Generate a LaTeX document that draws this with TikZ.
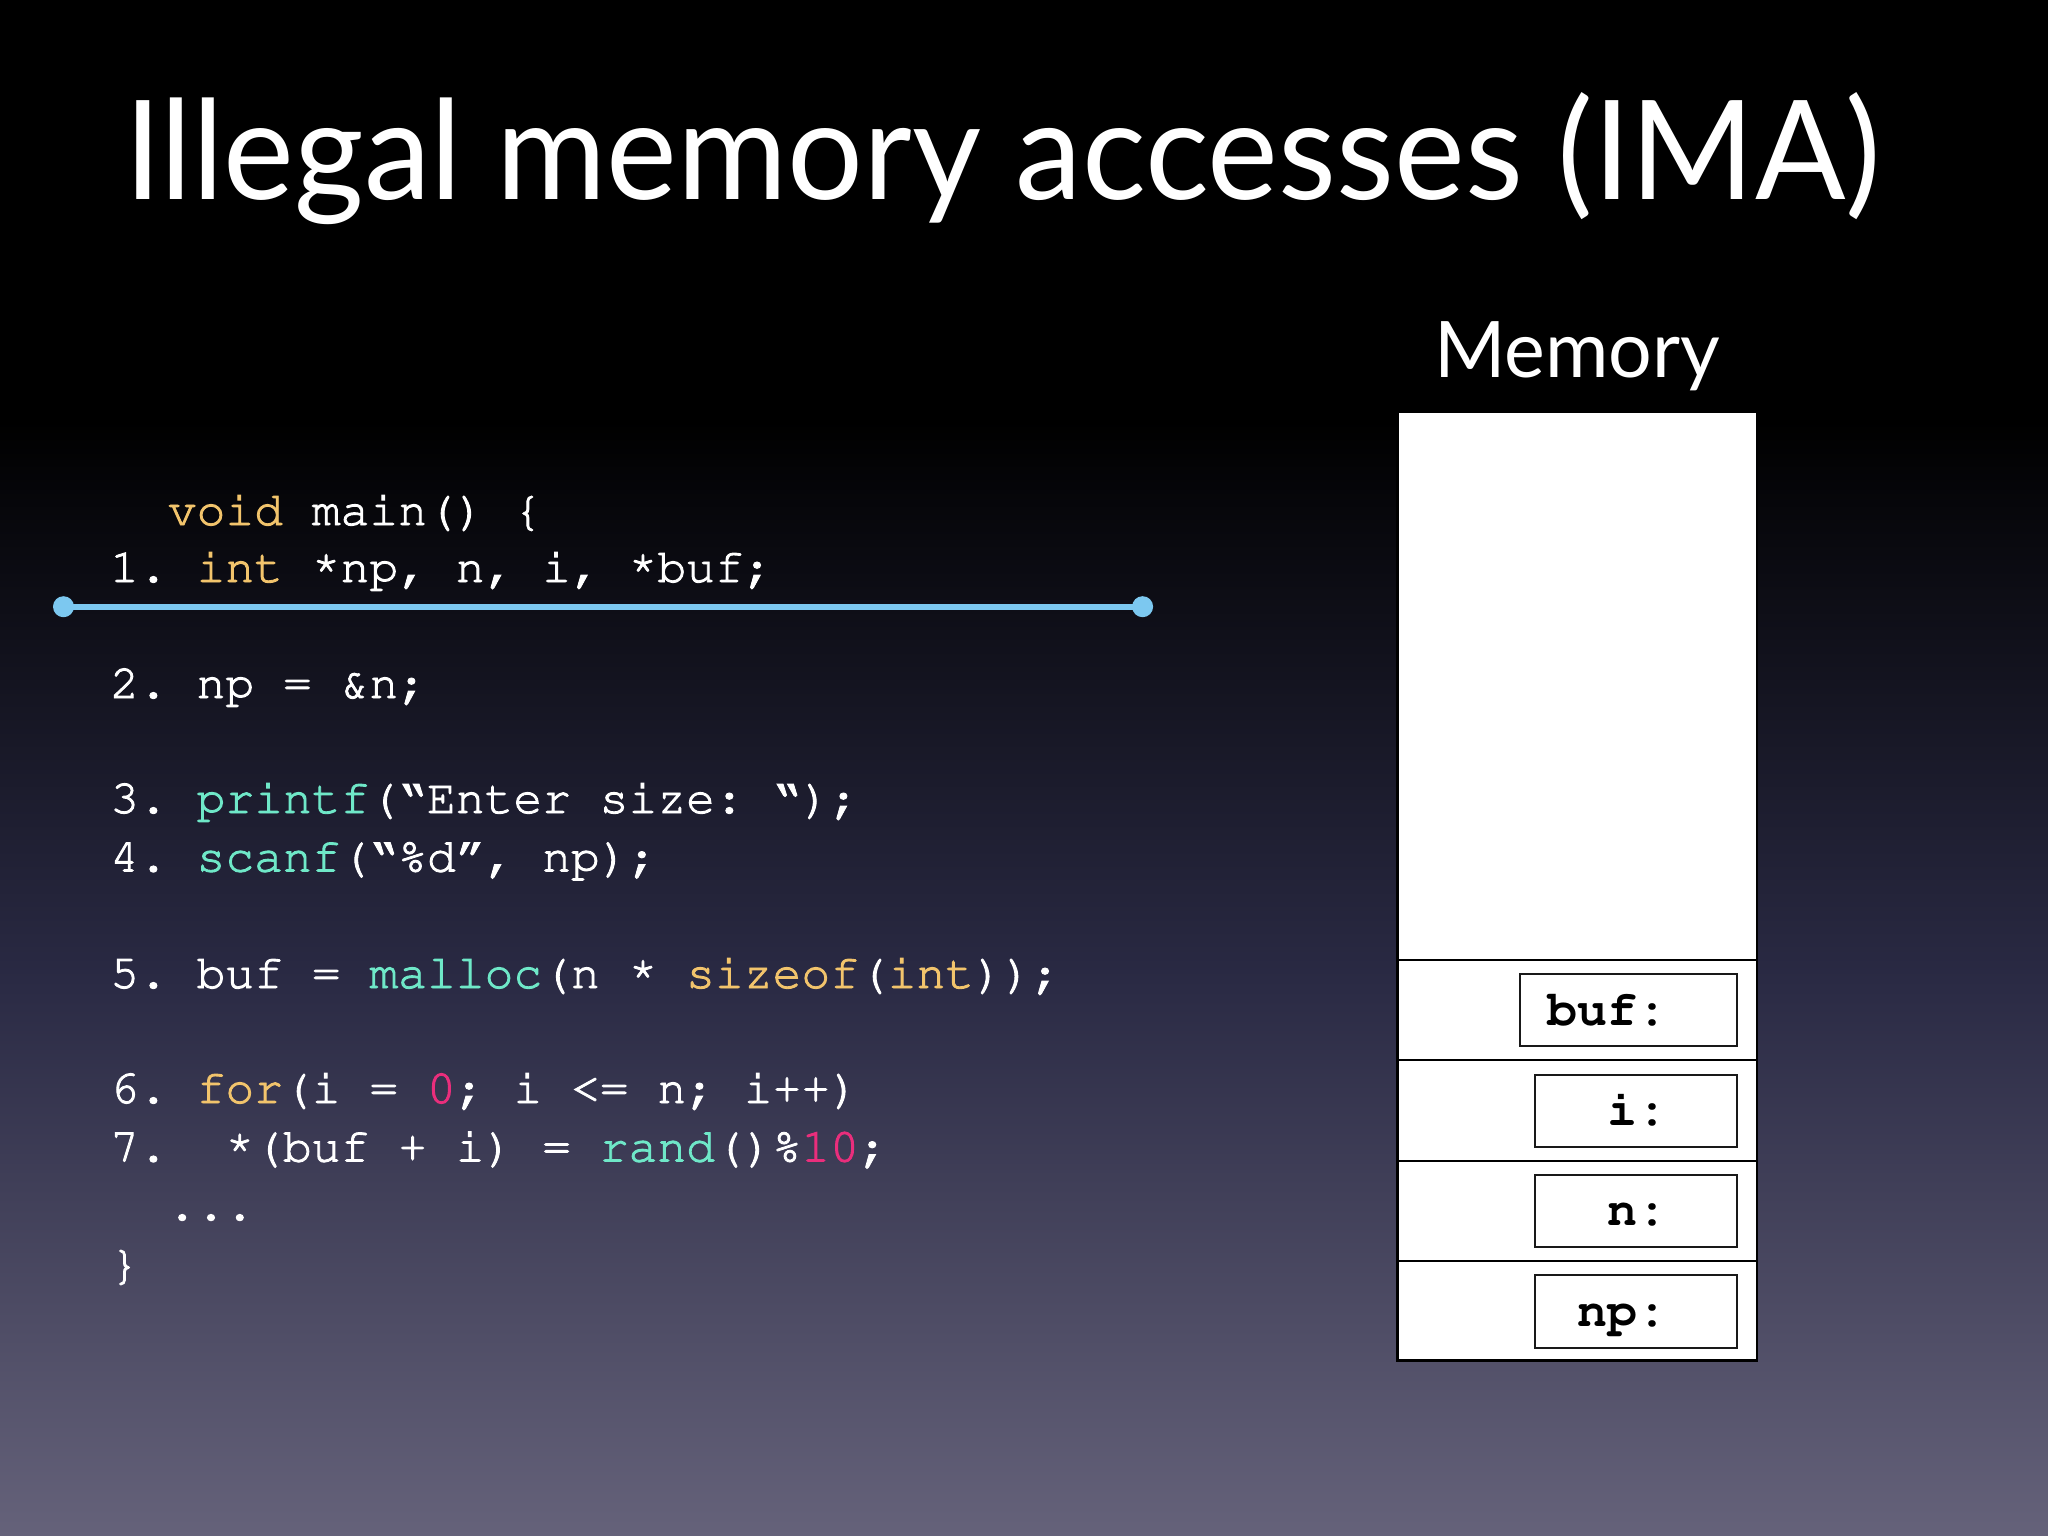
\documentclass[tikz,border=0pt]{standalone}
\usepackage[T1]{fontenc}
\usepackage{fontspec}
\setmainfont{Lato}
\newcommand\codefont{\fontencoding{T1}\fontfamily{pcr}\selectfont}
\newcommand\thick[1]{\special{pdf:literal 2 Tr 0.9 w}#1\special{pdf:literal 0 Tr 1 w}}
\newcommand\rast{\raisebox{7pt}{*}}
\definecolor{kwc}{HTML}{F2C46C}
\definecolor{fnc}{HTML}{6FE8C8}
\definecolor{nmc}{HTML}{EA2E7C}
\definecolor{linec}{HTML}{7CC8F0}
\definecolor{bgmid}{HTML}{2A2A44}
\definecolor{bgbot}{HTML}{65627A}
\newcommand\kw[1]{\textcolor{kwc}{#1}}
\newcommand\fn[1]{\textcolor{fnc}{#1}}
\newcommand\nm[1]{\textcolor{nmc}{#1}}
\tikzset{
  code/.style={anchor=base west, inner sep=0pt, text=white,
    font=\codefont\fontsize{48}{48}\selectfont\frenchspacing},
  memlabel/.style={anchor=base east, inner sep=0pt, text=black,
    font=\codefont\bfseries\fontsize{50}{50}\selectfont\frenchspacing},
  cellbox/.style={draw=black!90, line width=2pt, fill=white},
  enddot/.style={circle, fill=linec, inner sep=0pt, minimum size=21pt},
}
\begin{document}
\begin{tikzpicture}[x=1pt,y=-1pt]
\useasboundingbox (0,0) rectangle (2048,1536);
% background
\fill[black] (0,0) rectangle (2048,1536);
\shade[top color=black, bottom color=bgmid] (0,420) rectangle (2048,980);
\shade[top color=bgmid, bottom color=bgbot] (0,979) rectangle (2048,1536);
% title
\node[anchor=base west, inner sep=0pt, text=white, font=\fontsize{138}{138}\selectfont] (title) at (124,200)
  {\resizebox{1757pt}{\height}{Illegal memory accesses (IMA)}};
\node[anchor=base west, inner sep=0pt, text=white, font=\fontsize{78}{78}\selectfont] (memtitle) at (1434,377)
  {\resizebox{286pt}{\height}{Memory}};
% code
\node[code] (c0) at (167.6,525) {\thick{\kw{void} main() \{}};
\node[code] (c1) at (110,582) {\thick{1. \kw{int} \rast np, n, i, \rast buf;}};
\node[code] (c2) at (110,698) {\thick{2. np = \&n;}};
\node[code] (c3) at (110,813) {\thick{3. \fn{printf}(\textquotedblleft Enter size: \textquotedblleft);}};
\node[code] (c4) at (110,871.5) {\thick{4. \fn{scanf}(\textquotedblleft\%d\textquotedblright, np);}};
\node[code] (c5) at (110,988) {\thick{5. buf = \fn{malloc}(n \rast\ \kw{sizeof}(\kw{int}));}};
\node[code] (c6) at (110,1103) {\thick{6. \kw{for}(i = \nm{0}; i <= n; i++)}};
\node[code] (c7) at (110,1161.5) {\thick{7.\ \ \rast(buf + i) = \fn{rand}()\%\nm{10};}};
\node[code] (c8) at (167.6,1220) {\thick{...}};
\node[code] (c9) at (110,1279) {\thick{\}}};
% blue marker line
\node[enddot] (la) at (63.5,606.7) {};
\node[enddot] (lb) at (1142.6,606.7) {};
\draw[linec, line width=6pt] (la.center) -- (lb.center);
% memory
\draw[black, line width=2.5pt, fill=white] (1397.5,411.5) rectangle (1757,1360.5);
\draw[black, line width=2pt] (1397.5,959.5) -- (1757,959.5);
\draw[black, line width=2pt] (1397.5,1060) -- (1757,1060);
\draw[black, line width=2pt] (1397.5,1160.5) -- (1757,1160.5);
\draw[black, line width=2pt] (1397.5,1261) -- (1757,1261);
\draw[cellbox] (1520,973.5) rectangle (1736.5,1046);
\draw[cellbox] (1534.5,1074.5) rectangle (1736.5,1146.5);
\draw[cellbox] (1534.5,1174.5) rectangle (1736.5,1246.5);
\draw[cellbox] (1534.5,1275) rectangle (1736.5,1347.5);
\node[memlabel] (lbuf) at (1668,1025) {buf:};
\node[memlabel] (li) at (1668,1125) {i:};
\node[memlabel] (ln) at (1668,1225) {n:};
\node[memlabel] (lnp) at (1668,1326.5) {np:};
\end{tikzpicture}
\end{document}
